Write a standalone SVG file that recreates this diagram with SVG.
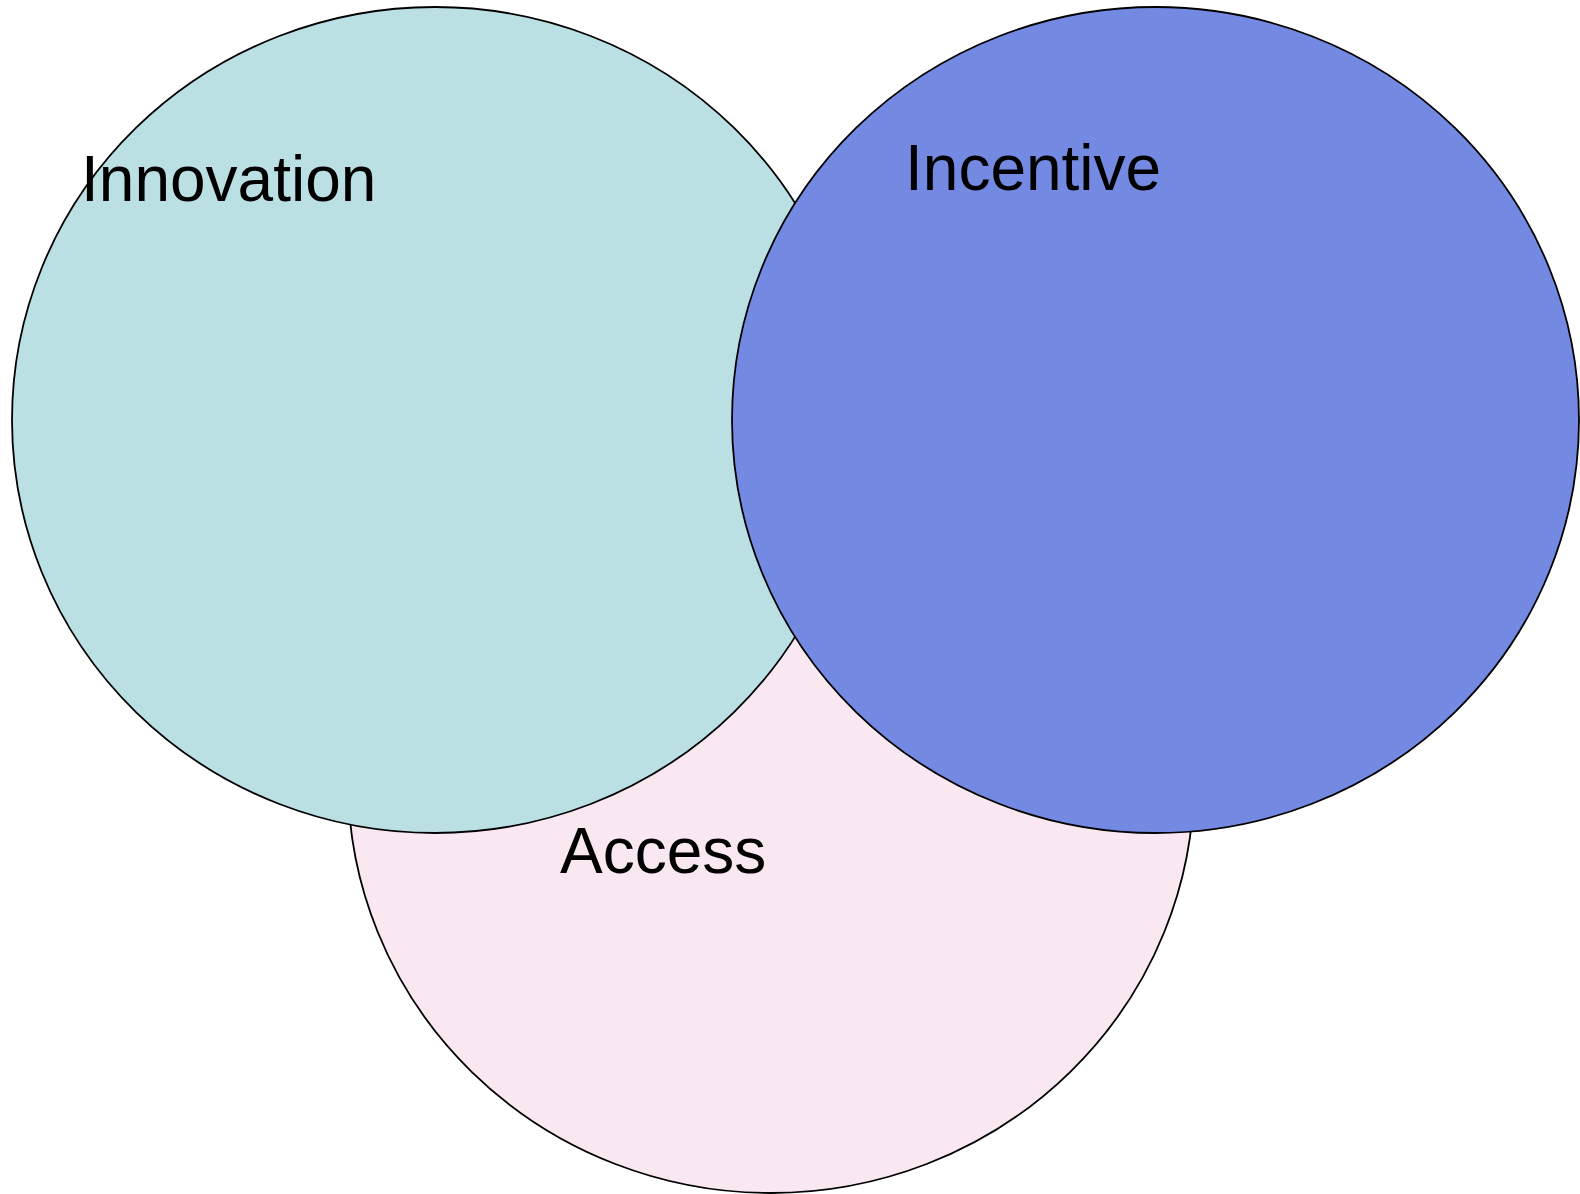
<svg xmlns="http://www.w3.org/2000/svg" width="1580" height="1194" viewBox="0 0 1580 1194">
  <style>
    .set { stroke: #000; stroke-width: 1.8; }
    .label { font-family: "Liberation Sans", Arial, sans-serif; font-size: 64px; fill: #000; }
  </style>
  <rect width="1580" height="1194" fill="#fff"/>
  <!-- Access (drawn first, lies underneath) -->
  <g id="access">
    <ellipse class="set" cx="771" cy="780" rx="423" ry="413" fill="#F9E8EF"/>
  </g>
  <!-- Innovation -->
  <g id="innovation">
    <ellipse class="set" cx="435" cy="420" rx="423" ry="413" fill="#BAE0E3"/>
  </g>
  <!-- Incentive (on top) -->
  <g id="incentive">
    <ellipse class="set" cx="1155.5" cy="420" rx="423.5" ry="413" fill="#7389E2"/>
  </g>
  <g id="connectors"/>
  <g id="labels">
    <text class="label" x="81" y="201">Innovation</text>
    <text class="label" x="905" y="190">Incentive</text>
    <text class="label" x="560" y="873">Access</text>
  </g>
</svg>
